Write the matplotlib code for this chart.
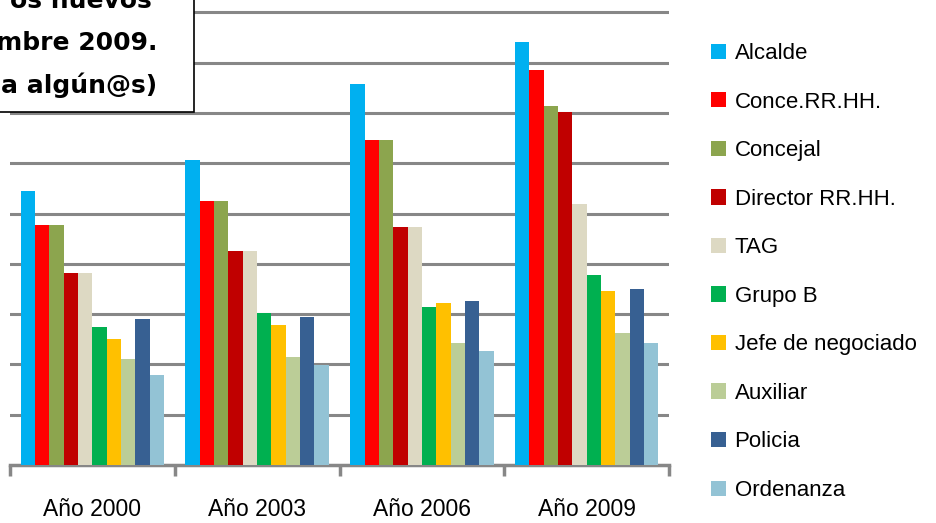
import matplotlib.pyplot as plt
from matplotlib.patches import Rectangle
import numpy as np

years = ["Año 2000", "Año 2003", "Año 2006", "Año 2009"]
roles = ["Alcalde", "Conce.RR.HH.", "Concejal", "Director RR.HH.", "TAG",
         "Grupo B", "Jefe de negociado", "Auxiliar", "Policia", "Ordenanza"]
colors = ["#00B0F0", "#FF0000", "#8CA54E", "#C00000", "#DDD9C3",
          "#00B050", "#FFC000", "#BBCD97", "#376092", "#93C3D5"]

# one list per role, values for 2000, 2003, 2006, 2009
alcalde = [54.5, 60.6, 75.7, 84.1]
conce_rrhh = [47.7, 52.5, 64.6, 78.5]
concejal = [47.7, 52.5, 64.6, 71.3]
director_rrhh = [38.2, 42.6, 47.4, 70.2]
tag = [38.2, 42.6, 47.4, 51.8]
grupo_b = [27.4, 30.2, 31.4, 37.8]
jefe = [25.0, 27.8, 32.2, 34.6]
auxiliar = [21.1, 21.5, 24.3, 26.2]
policia = [29.0, 29.4, 32.6, 35.0]
ordenanza = [17.8, 19.8, 22.7, 24.3]
series = [alcalde, conce_rrhh, concejal, director_rrhh, tag,
          grupo_b, jefe, auxiliar, policia, ordenanza]

W, H = 936, 523
fig = plt.figure(figsize=(W / 100, H / 100), dpi=100)
ax = fig.add_axes([10 / W, 1 - 465 / H, 659 / W, 465 / H])

x = np.arange(len(years))
bw = 0.087
for i, (name, vals, c) in enumerate(zip(roles, series, colors)):
    ax.bar(x + (i - 4.5) * bw, vals, bw, color=c, label=name, zorder=3)

ax.set_xlim(-0.5, 3.5)
ax.set_ylim(0, 465 / 5.03)
ax.set_yticks(np.arange(10, 91, 10))
ax.yaxis.grid(True, color="#878787", lw=2.2, zorder=0)
ax.tick_params(axis="y", left=False, labelleft=False)

ax.set_xticks(x)
ax.set_xticklabels(years, fontsize=16.5, family="Liberation Sans")
ax.set_xticks(np.arange(-0.5, 4, 1), minor=True)
ax.tick_params(axis="x", which="major", length=0, pad=24)
ax.tick_params(axis="x", which="minor", length=8, width=2.5, color="#878787")

for s in ["left", "right", "top"]:
    ax.spines[s].set_visible(False)
ax.spines["bottom"].set_color("#878787")
ax.spines["bottom"].set_linewidth(2.5)

leg = fig.legend(loc="upper left", bbox_to_anchor=(691 / W, 1 - 23 / H),
                 frameon=False, prop={"family": "Liberation Sans", "size": 16},
                 handlelength=0.68, handleheight=0.68, handletextpad=0.38,
                 labelspacing=1.24)

# title box, cut off at the top-left corner
box = Rectangle((-0.02, 1 - 112 / H), 194 / W + 0.02, 112 / H + 0.02,
                transform=fig.transFigure, fc="white", ec="black", lw=1.2, zorder=10)
fig.add_artist(box)
lines = [("os nuevos", 152, 8), ("mbre 2009.", 157, 50), ("a algún@s)", 157, 93)]
for txt, px, py in lines:
    fig.text(px / W, 1 - py / H, txt, ha="right", va="baseline", fontsize=18,
             fontweight="bold", family="DejaVu Sans", zorder=11)

fig.savefig("out.png", dpi=100)
